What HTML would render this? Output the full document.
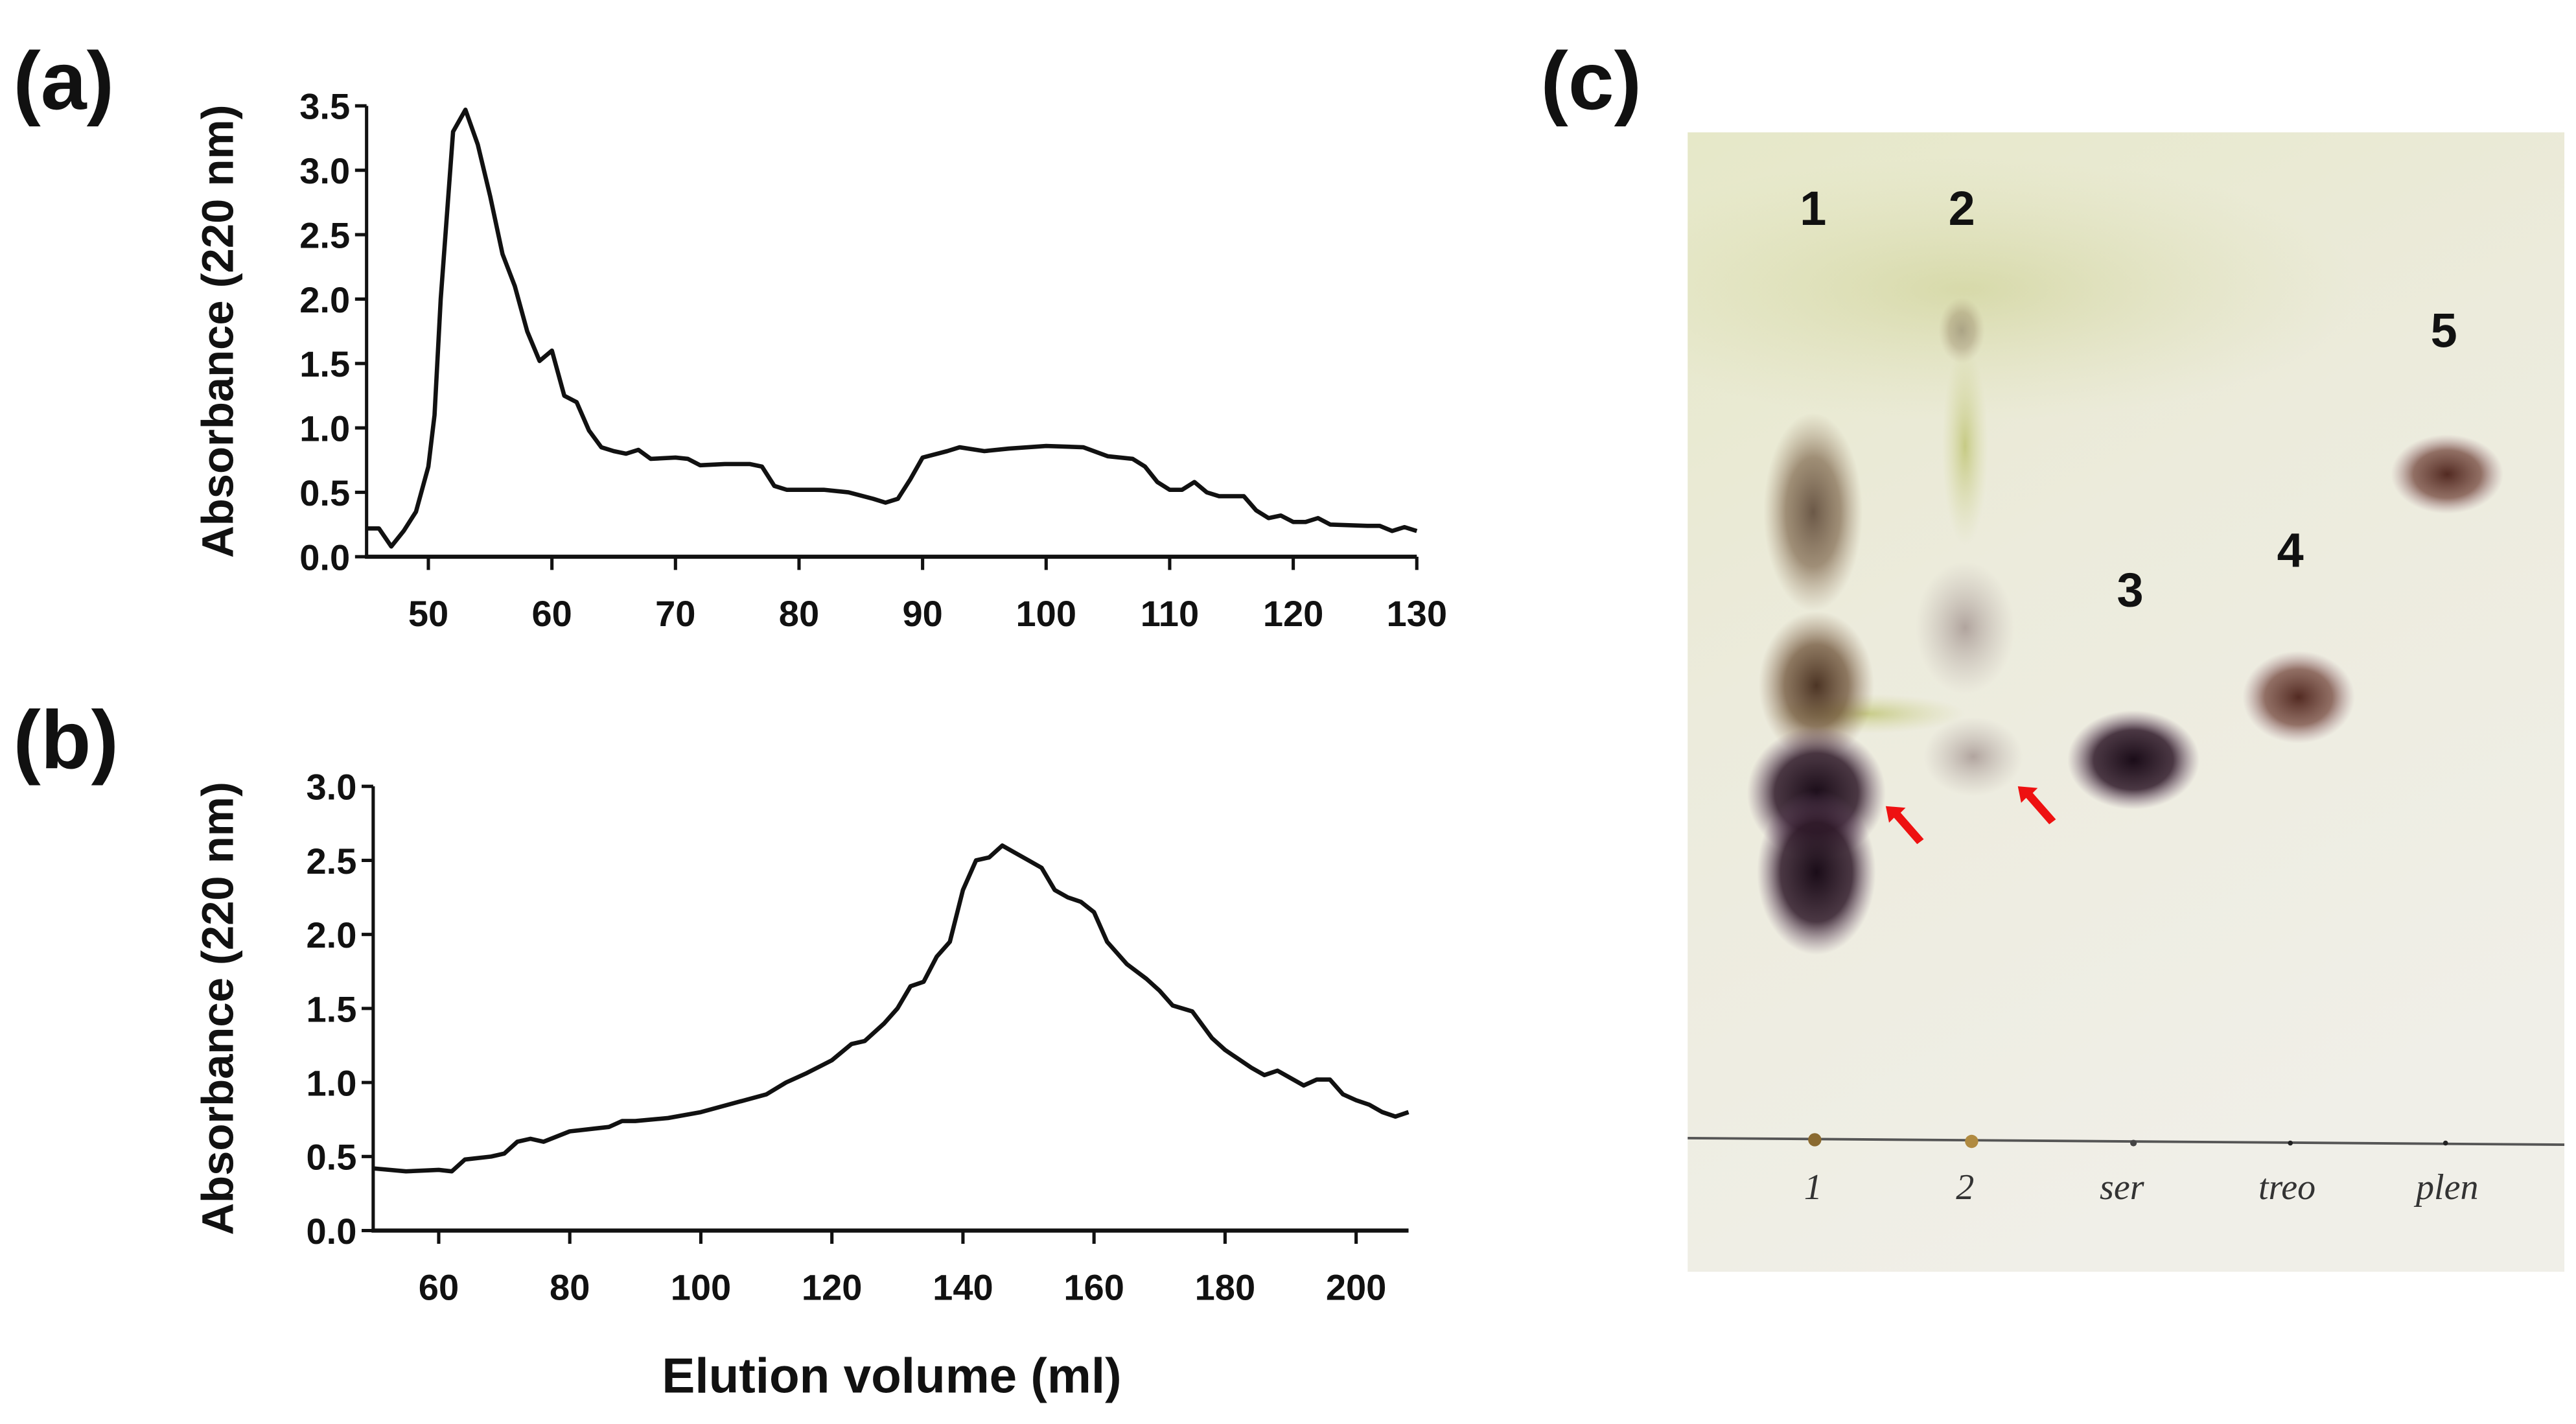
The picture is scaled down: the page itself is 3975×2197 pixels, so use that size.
<!DOCTYPE html>
<html><head><meta charset="utf-8"><style>
html,body{margin:0;padding:0;background:#fff;width:3975px;height:2197px;overflow:hidden}
svg{display:block}
.tk{font-family:"Liberation Sans Narrow","Liberation Sans",sans-serif;font-weight:bold;font-size:22px;fill:#111}
.ttl{font-family:"Liberation Sans",sans-serif;font-weight:bold;font-size:27px;fill:#111}
.pl{font-family:"Liberation Sans",sans-serif;font-weight:bold;font-size:50px;fill:#111}
.ln{font-family:"Liberation Sans",sans-serif;font-weight:bold;font-size:29px;fill:#111}
.hw{font-family:"Liberation Serif",serif;font-style:italic;font-size:22px;fill:#333}
</style></head><body>
<svg id="fig" width="3975" height="2197" viewBox="0 0 1560 862" xmlns="http://www.w3.org/2000/svg">
<defs>
<clipPath id="plateClip"><rect x="1022" y="80" width="531" height="690"/></clipPath>
<radialGradient id="gBrown"><stop offset="0" stop-color="#3a2010" stop-opacity="0.9"/><stop offset="0.55" stop-color="#5a3a1e" stop-opacity="0.65"/><stop offset="1" stop-color="#8a6a50" stop-opacity="0"/></radialGradient>
<radialGradient id="gDark"><stop offset="0" stop-color="#1a0c18" stop-opacity="1"/><stop offset="0.6" stop-color="#2e1828" stop-opacity="0.85"/><stop offset="1" stop-color="#705070" stop-opacity="0"/></radialGradient>
<radialGradient id="gRed"><stop offset="0" stop-color="#4a2018" stop-opacity="0.95"/><stop offset="0.6" stop-color="#6a3a30" stop-opacity="0.7"/><stop offset="1" stop-color="#9a7080" stop-opacity="0"/></radialGradient>
<radialGradient id="gFaint"><stop offset="0" stop-color="#806a6a" stop-opacity="0.55"/><stop offset="1" stop-color="#a09090" stop-opacity="0"/></radialGradient>
<radialGradient id="gGreen"><stop offset="0" stop-color="#a8b040" stop-opacity="0.55"/><stop offset="1" stop-color="#c8cc80" stop-opacity="0"/></radialGradient>
<linearGradient id="gBg" x1="0" y1="0" x2="0.4" y2="1"><stop offset="0" stop-color="#e6e8c8"/><stop offset="0.45" stop-color="#ecebdc"/><stop offset="1" stop-color="#f0efe8"/></linearGradient>
</defs>
<g id="chartA"></g>
<g id="chartB"></g>
<text class="pl" x="8" y="66">(a)</text>
<text class="pl" x="8" y="465">(b)</text>
<text class="pl" x="933" y="66">(c)</text>
<text class="ttl" x="540" y="843" text-anchor="middle" style="font-size:30px">Elution volume (ml)</text>

<g id="tlc" clip-path="url(#plateClip)">
<rect x="1022" y="80" width="531" height="690" fill="url(#gBg)"/>
<ellipse cx="1190" cy="175" rx="240" ry="80" fill="url(#gGreen)" opacity="0.5"/>
<ellipse cx="1190" cy="270" rx="14" ry="60" fill="url(#gGreen)"/>
<ellipse cx="1188" cy="200" rx="14" ry="20" fill="url(#gBrown)" opacity="0.35"/>
<ellipse cx="1190" cy="380" rx="30" ry="40" fill="url(#gFaint)"/>
<ellipse cx="1130" cy="432" rx="60" ry="12" fill="url(#gGreen)"/>
<ellipse cx="1098" cy="310" rx="30" ry="60" fill="url(#gBrown)" opacity="0.8"/>
<ellipse cx="1100" cy="415" rx="35" ry="45" fill="url(#gBrown)"/>
<ellipse cx="1100" cy="480" rx="42" ry="40" fill="url(#gDark)"/>
<ellipse cx="1100" cy="528" rx="36" ry="50" fill="url(#gDark)"/>
<ellipse cx="1195" cy="458" rx="30" ry="24" fill="url(#gFaint)"/>
<ellipse cx="1292" cy="460" rx="40" ry="30" fill="url(#gDark)"/>
<ellipse cx="1392" cy="422" rx="34" ry="28" fill="url(#gRed)"/>
<ellipse cx="1482" cy="287" rx="34" ry="24" fill="url(#gRed)"/>
<line x1="1022" y1="689" x2="1553" y2="693" stroke="#555" stroke-width="1.5"/>
<circle cx="1099" cy="690" r="4" fill="#8a6a30"/><circle cx="1194" cy="691" r="4" fill="#b08a40"/>
<circle cx="1292" cy="692" r="2" fill="#444"/><circle cx="1387" cy="692" r="1.5" fill="#222"/><circle cx="1481" cy="692" r="1.5" fill="#222"/>
<text class="ln" x="1098" y="136" text-anchor="middle">1</text>
<text class="ln" x="1188" y="136" text-anchor="middle">2</text>
<text class="ln" x="1290" y="367" text-anchor="middle">3</text>
<text class="ln" x="1387" y="343" text-anchor="middle">4</text>
<text class="ln" x="1480" y="210" text-anchor="middle">5</text>
<text class="hw" x="1098" y="726" text-anchor="middle">1</text>
<text class="hw" x="1190" y="726" text-anchor="middle">2</text>
<text class="hw" x="1285" y="726" text-anchor="middle">ser</text>
<text class="hw" x="1385" y="726" text-anchor="middle">treo</text>
<text class="hw" x="1482" y="726" text-anchor="middle">plen</text>
<g fill="#ee1111">
<path d="M1142,488 l12,1 l-3,3 l14,16 l-4,3 l-14,-16 l-3,3 z"/>
<path d="M1222,476 l12,1 l-3,3 l14,16 l-4,3 l-14,-16 l-3,3 z"/>
</g>
</g>
</svg>
<script>
const aX=[45,46,47,48,49,50,50.5,51,52,53,54,55,56,57,58,59,60,61,62,63,64,65,66,67,68,70,71,72,74,76,77,78,79,82,84,86,87,88,89,90,92,93,95,97,100,103,105,107,108,109,110,111,112,113,114,116,117,118,119,120,121,122,123,126,127,128,129,130];
const aY=[0.22,0.22,0.08,0.2,0.35,0.7,1.1,2.0,3.3,3.47,3.2,2.8,2.35,2.1,1.75,1.52,1.6,1.25,1.2,0.98,0.85,0.82,0.8,0.83,0.76,0.77,0.76,0.71,0.72,0.72,0.7,0.55,0.52,0.52,0.5,0.45,0.42,0.45,0.6,0.77,0.82,0.85,0.82,0.84,0.86,0.85,0.78,0.76,0.7,0.58,0.52,0.52,0.58,0.5,0.47,0.47,0.36,0.3,0.32,0.27,0.27,0.3,0.25,0.24,0.24,0.2,0.23,0.2];
const aXTicks=[50,60,70,80,90,100,110,120,130];
const aYTicks=[0,0.5,1,1.5,2,2.5,3,3.5];
const bX=[50,55,60,62,64,68,70,72,74,76,80,84,86,88,90,95,100,105,110,113,116,120,123,125,128,130,132,134,136,138,140,142,144,146,148,150,152,154,156,158,160,162,165,168,170,172,175,178,180,184,186,188,192,194,196,198,200,202,204,206,208];
const bY=[0.42,0.4,0.41,0.4,0.48,0.5,0.52,0.6,0.62,0.6,0.67,0.69,0.7,0.74,0.74,0.76,0.8,0.86,0.92,1.0,1.06,1.15,1.26,1.28,1.4,1.5,1.65,1.68,1.85,1.95,2.3,2.5,2.52,2.6,2.55,2.5,2.45,2.3,2.25,2.22,2.15,1.95,1.8,1.7,1.62,1.52,1.48,1.3,1.22,1.1,1.05,1.08,0.98,1.02,1.02,0.92,0.88,0.85,0.8,0.77,0.8];
const bXTicks=[60,80,100,120,140,160,180,200];
const bYTicks=[0,0.5,1,1.5,2,2.5,3];
const NS="http://www.w3.org/2000/svg";
function mk(tag,attrs,parent){const e=document.createElementNS(NS,tag);for(const k in attrs)e.setAttribute(k,attrs[k]);parent.appendChild(e);return e;}
function draw(g,cfg,xs,ys,xt,yt,nm){
  const sx=v=>cfg.x0+(v-cfg.xmin)/(cfg.xmax-cfg.xmin)*(cfg.x1-cfg.x0);
  const sy=v=>cfg.y0-(v-cfg.ymin)/(cfg.ymax-cfg.ymin)*(cfg.y0-cfg.y1);
  const ya=mk('line',{x1:cfg.x0,y1:cfg.y0,x2:cfg.x0,y2:sy(cfg.ymax),stroke:'#111','stroke-width':2},g);
  
  
  const xa=mk('line',{x1:cfg.x0-1,y1:cfg.y0,x2:cfg.x1,y2:cfg.y0,stroke:'#111','stroke-width':2.5},g);
  
  
  yt.forEach(v=>{
    mk('line',{x1:cfg.x0-7,y1:sy(v),x2:cfg.x0,y2:sy(v),stroke:'#111','stroke-width':2},g);
    const t=mk('text',{x:cfg.x0-10,y:sy(v)+8,'text-anchor':'end','class':'tk'},g);
    t.textContent=v.toFixed(1);
    
    
  });
  xt.forEach(v=>{
    mk('line',{x1:sx(v),y1:cfg.y0,x2:sx(v),y2:cfg.y0+8,stroke:'#111','stroke-width':2},g);
    const t=mk('text',{x:sx(v),y:cfg.y0+42,'text-anchor':'middle','class':'tk'},g);
    t.textContent=v;
    
    
  });
  const d=xs.map((x,i)=>(i?'L':'M')+sx(x).toFixed(2)+','+sy(ys[i]).toFixed(2)).join('');
  const p=mk('path',{d:d,fill:'none',stroke:'#111','stroke-width':2.6,'stroke-linejoin':'round'},g);
  
  
  const cy=(cfg.y0+sy(cfg.ymax))/2;
  const tt=mk('text',{x:0,y:0,'text-anchor':'middle','class':'ttl',transform:'translate(141,'+cy+') rotate(-90)'},g);
  tt.textContent='Absorbance (220 nm)';
  
  
}
draw(document.getElementById('chartA'),{x0:222,x1:858,xmin:45,xmax:130,y0:337,y1:64,ymin:0,ymax:3.5},aX,aY,aXTicks,aYTicks,'chart-a');
draw(document.getElementById('chartB'),{x0:226,x1:853,xmin:50,xmax:208,y0:745,y1:476,ymin:0,ymax:3},bX,bY,bXTicks,bYTicks,'chart-b');
</script>
</body></html>
